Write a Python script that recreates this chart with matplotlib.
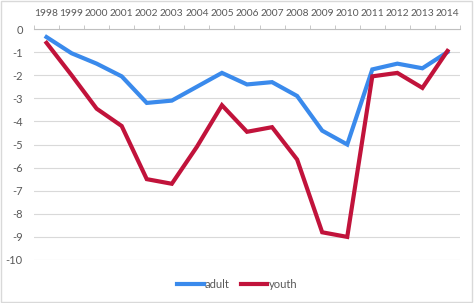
import matplotlib
matplotlib.use("Agg")
import matplotlib.pyplot as plt
from matplotlib.patches import Rectangle

years = [str(y) for y in range(1998, 2015)]
adult = [-0.35, -1.05, -1.5, -2.05, -3.2, -3.1, -2.5, -1.9, -2.4, -2.3, -2.9, -4.4, -5.0, -1.75, -1.5, -1.7, -1.0]
youth = [-0.6, -2.0, -3.45, -4.2, -6.5, -6.7, -5.1, -3.3, -4.45, -4.25, -5.65, -8.8, -9.0, -2.05, -1.9, -2.55, -0.95]
yticks = list(range(0, -11, -1))

plt.rcParams['font.family'] = ['Lato', 'DejaVu Sans']
fig = plt.figure(figsize=(4.74, 3.03), dpi=100)
ax = fig.add_axes([34/474, 1 - 260/303, (460-34)/474, (260-29)/303])

x = list(range(len(years)))
ax.plot(x, adult, color='#3A8AEC', lw=3, label='adult', solid_joinstyle='miter')
ax.plot(x, youth, color='#C1133B', lw=3, label='youth', solid_joinstyle='miter')

ax.set_xlim(-0.5, len(years) - 0.5)
ax.set_ylim(-10, 0)
ax.set_yticks(yticks)
ax.set_yticklabels([str(v) for v in yticks], fontsize=8, color='#595959')
ax.yaxis.grid(True, color='#D9D9D9', lw=0.8)
ax.set_axisbelow(True)
ax.tick_params(axis='y', length=0, pad=8)

ax.xaxis.tick_top()
ax.set_xticks(x)
ax.set_xticklabels(years, fontsize=7.4, color='#595959')
ax.set_xticks([i - 0.5 for i in range(len(years) + 1)], minor=True)
ax.tick_params(axis='x', which='major', length=0, pad=8)
ax.tick_params(axis='x', which='minor', length=3, color='#BFBFBF', direction='out')

for s in ['left', 'right', 'bottom']:
    ax.spines[s].set_visible(False)
ax.spines['top'].set_color('#BFBFBF')
ax.spines['top'].set_linewidth(0.8)

leg = fig.legend(loc='center', bbox_to_anchor=(237/474, 1 - 284/303), ncol=2, frameon=False,
                 fontsize=8, handlelength=2.4, handletextpad=0.1, columnspacing=1.0)
for t in leg.get_texts():
    t.set_color('#595959')

fig.patches.append(Rectangle((0.002, 0.003), 0.994, 0.994, transform=fig.transFigure,
                             fill=False, edgecolor='#D9D9D9', lw=1))
fig.savefig('out.png', dpi=100, facecolor='white')
